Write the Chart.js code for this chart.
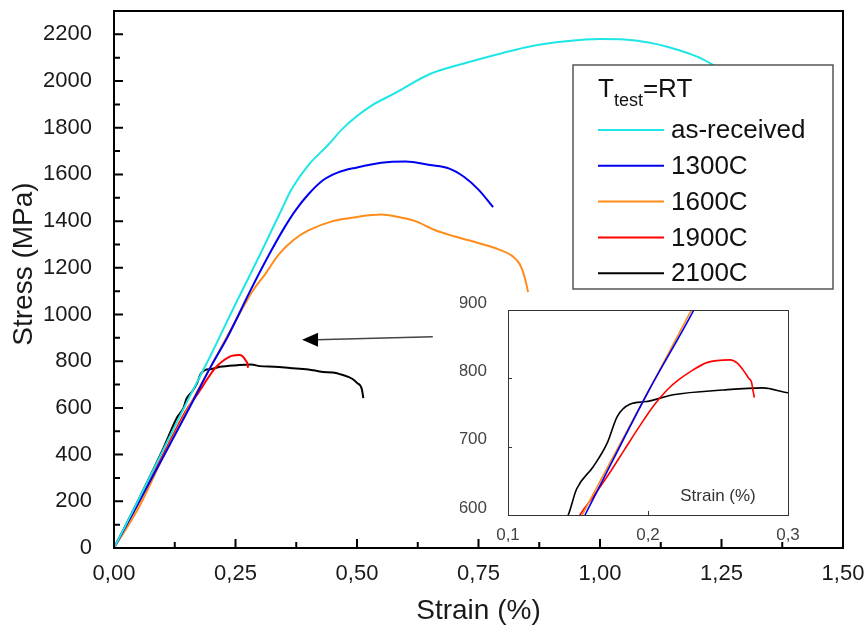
<!DOCTYPE html>
<html>
<head>
<meta charset="utf-8">
<script src="https://cdn.jsdelivr.net/npm/chart.js@4"></script>
<style>
  body { margin: 0; background: #fff; }
  #wrap { position: relative; width: 868px; height: 628px; }
  #main { position: absolute; left: 0; top: 0; }
  #inset { position: absolute; left: 460px; top: 290px; }
</style>
</head>
<body>
<div id="wrap">
  <canvas id="main" width="868" height="628"></canvas>
  <canvas id="inset" width="360" height="255"></canvas>
</div>
<script>
// series names and colours
const seriesNames = ["as-received", "1300C", "1600C", "1900C", "2100C"];
const seriesColors = ["#1ee6e6", "#0000f0", "#ff8c1a", "#ff0000", "#000000"];

// as-received
const strainAsReceived = [0, 0.05, 0.10, 0.15, 0.20, 0.25, 0.30, 0.345, 0.365, 0.40, 0.44, 0.47, 0.50, 0.53, 0.58, 0.65, 0.72, 0.80, 0.86, 0.93, 1.00, 1.05, 1.10, 1.14, 1.18, 1.21, 1.24];
const stressAsReceived = [0, 205, 415, 625, 830, 1045, 1255, 1450, 1535, 1640, 1725, 1795, 1850, 1895, 1950, 2030, 2075, 2120, 2150, 2170, 2180, 2178, 2165, 2146, 2120, 2095, 2060];

// 1300C
const strain1300 = [0, 0.10, 0.155, 0.20, 0.234, 0.28, 0.32, 0.35, 0.375, 0.40, 0.43, 0.46, 0.50, 0.55, 0.60, 0.65, 0.69, 0.72, 0.75, 0.78];
const stress1300 = [0, 385, 600, 780, 905, 1100, 1260, 1370, 1450, 1515, 1575, 1608, 1630, 1650, 1655, 1640, 1625, 1590, 1535, 1460];

// 1600C
const strain1600 = [0, 0.05, 0.10, 0.153, 0.20, 0.231, 0.26, 0.285, 0.31, 0.34, 0.37, 0.40, 0.45, 0.50, 0.55, 0.58, 0.62, 0.66, 0.70, 0.73, 0.76, 0.79, 0.82, 0.835, 0.845, 0.852];
const stress1600 = [0, 170, 385, 600, 780, 900, 1010, 1100, 1170, 1260, 1320, 1360, 1400, 1418, 1428, 1420, 1400, 1362, 1335, 1318, 1300, 1280, 1250, 1215, 1160, 1096];

// 1900C
const strain1900 = [0, 0.05, 0.10, 0.1514, 0.162, 0.173, 0.183, 0.194, 0.204, 0.2136, 0.222, 0.232, 0.242, 0.2586, 0.264, 0.268, 0.272, 0.274, 0.275, 0.276];
const stress1900 = [0, 190, 395, 600, 630, 663, 695, 730, 760, 783, 798, 812, 823, 827, 822, 812, 800, 794, 782, 772];

// 2100C
const strain2100 = [0, 0.05, 0.10, 0.13, 0.143, 0.149, 0.161, 0.171, 0.178, 0.187, 0.199, 0.218, 0.254, 0.282, 0.30, 0.33, 0.362, 0.40, 0.43, 0.45, 0.471, 0.49, 0.50, 0.51, 0.513];
const stress2100 = [0, 205, 420, 560, 600, 638, 671, 706, 744, 762, 766, 776, 783, 786, 779, 776, 771, 765, 754, 752, 741, 725, 707, 680, 642];

// tick labels
const xTickValues = [0, 0.25, 0.5, 0.75, 1.0, 1.25, 1.5];
const xTickLabels = ["0,00", "0,25", "0,50", "0,75", "1,00", "1,25", "1,50"];
const yTickValues = [0, 200, 400, 600, 800, 1000, 1200, 1400, 1600, 1800, 2000, 2200];
const yTickLabels = ["0", "200", "400", "600", "800", "1000", "1200", "1400", "1600", "1800", "2000", "2200"];
const insetXTickValues = [0.1, 0.2, 0.3];
const insetXTickLabels = ["0,1", "0,2", "0,3"];
const insetYTickValues = [600, 700, 800, 900];
const insetYTickLabels = ["600", "700", "800", "900"];

const allStrain = [strainAsReceived, strain1300, strain1600, strain1900, strain2100];
const allStress = [stressAsReceived, stress1300, stress1600, stress1900, stress2100];

Chart.defaults.font.family = "'Liberation Sans', Arial, sans-serif";

function points(xs, ys) {
  return xs.map((x, i) => ({ x: x, y: ys[i] }));
}

function makeDataset(i, width) {
  return {
    label: seriesNames[i],
    data: points(allStrain[i], allStress[i]),
    showLine: true,
    borderColor: seriesColors[i],
    borderWidth: width,
    pointRadius: 0,
    cubicInterpolationMode: "monotone",
    fill: false
  };
}

// box, inward ticks, y title, arrow and legend for the main plot
const mainDecor = {
  id: "mainDecor",
  afterDraw(chart) {
    const { ctx, chartArea: a, scales: { x, y } } = chart;
    ctx.save();
    ctx.strokeStyle = "#000";
    ctx.lineWidth = 2;
    ctx.strokeRect(a.left, a.top, a.right - a.left, a.bottom - a.top);

    ctx.beginPath();
    for (let k = 0; k <= 12; k++) {
      const px = x.getPixelForValue(k * 0.125);
      const len = k % 2 === 0 ? 9 : 6;
      ctx.moveTo(px, a.bottom);
      ctx.lineTo(px, a.bottom - len);
    }
    for (let k = 0; k <= 23; k++) {
      const py = y.getPixelForValue(k * 100);
      const len = k % 2 === 0 ? 9 : 6;
      ctx.moveTo(a.left, py);
      ctx.lineTo(a.left + len, py);
    }
    ctx.stroke();

    // y axis title, sits a little above the middle of the axis
    ctx.save();
    ctx.translate(24, 264);
    ctx.rotate(-Math.PI / 2);
    ctx.fillStyle = "#1a1a1a";
    ctx.font = "28px 'Liberation Sans', Arial, sans-serif";
    ctx.textAlign = "center";
    ctx.textBaseline = "middle";
    ctx.fillText("Stress (MPa)", 0, 0);
    ctx.restore();

    // arrow pointing at the yield region
    const x0 = x.getPixelForValue(0.656), y0 = y.getPixelForValue(905);
    const x1 = x.getPixelForValue(0.387), y1 = y.getPixelForValue(892);
    ctx.strokeStyle = "#444";
    ctx.lineWidth = 1.5;
    ctx.beginPath();
    ctx.moveTo(x0, y0);
    ctx.lineTo(x1 + 14, y1);
    ctx.stroke();
    ctx.fillStyle = "#000";
    ctx.beginPath();
    ctx.moveTo(x1, y1);
    ctx.lineTo(x1 + 16, y1 - 7);
    ctx.lineTo(x1 + 16, y1 + 7);
    ctx.closePath();
    ctx.fill();

    // legend
    const lx = 573, ly = 65, lw = 260, lh = 224;
    ctx.fillStyle = "#fff";
    ctx.fillRect(lx, ly, lw, lh);
    ctx.strokeStyle = "#555";
    ctx.lineWidth = 1.5;
    ctx.strokeRect(lx, ly, lw, lh);

    ctx.fillStyle = "#111";
    ctx.textBaseline = "alphabetic";
    ctx.textAlign = "left";
    ctx.font = "26px 'Liberation Sans', Arial, sans-serif";
    ctx.fillText("T", 598, 97);
    let tx = 598 + ctx.measureText("T").width;
    ctx.font = "18px 'Liberation Sans', Arial, sans-serif";
    ctx.fillText("test", tx, 106);
    tx += ctx.measureText("test").width;
    ctx.font = "26px 'Liberation Sans', Arial, sans-serif";
    ctx.fillText("=RT", tx, 97);

    ctx.textBaseline = "middle";
    for (let i = 0; i < seriesNames.length; i++) {
      const ey = 130 + i * 35.8;
      ctx.strokeStyle = seriesColors[i];
      ctx.lineWidth = 2;
      ctx.beginPath();
      ctx.moveTo(598, ey);
      ctx.lineTo(664, ey);
      ctx.stroke();
      ctx.fillStyle = "#111";
      ctx.fillText(seriesNames[i], 671, ey + 1);
    }
    ctx.restore();
  }
};

new Chart(document.getElementById("main"), {
  type: "scatter",
  data: {
    datasets: [0, 1, 2, 3, 4].map(i => makeDataset(i, 2))
  },
  options: {
    responsive: false,
    animation: false,
    layout: { padding: { top: 11, right: 25, left: 0, bottom: 0 } },
    plugins: { legend: { display: false }, tooltip: { enabled: false } },
    scales: {
      x: {
        type: "linear",
        min: 0,
        max: 1.5,
        afterBuildTicks: s => { s.ticks = xTickValues.map(v => ({ value: v })); },
        afterFit: s => { s.height = 80; s.paddingLeft = 0; s.paddingRight = 0; },
        grid: { display: false },
        border: { display: false },
        ticks: {
          callback: (v, i) => xTickLabels[i],
          font: { size: 22 },
          color: "#1a1a1a",
          padding: 5,
          maxRotation: 0
        },
        title: {
          display: true,
          text: "Strain (%)",
          font: { size: 28 },
          color: "#1a1a1a",
          padding: { top: 2, bottom: 0 }
        }
      },
      y: {
        type: "linear",
        min: 0,
        max: 2300,
        afterBuildTicks: s => { s.ticks = yTickValues.map(v => ({ value: v })); },
        afterFit: s => { s.width = 114; s.paddingTop = 0; s.paddingBottom = 0; },
        grid: { display: false },
        border: { display: false },
        ticks: {
          callback: (v, i) => yTickLabels[i],
          font: { size: 22 },
          color: "#1a1a1a",
          padding: 14
        }
      }
    }
  },
  plugins: [mainDecor]
});

// inset box, ticks and axis caption
const insetDecor = {
  id: "insetDecor",
  afterDraw(chart) {
    const { ctx, chartArea: a, scales: { x, y } } = chart;
    ctx.save();
    ctx.strokeStyle = "#333";
    ctx.lineWidth = 1;
    ctx.strokeRect(a.left + 0.5, a.top + 0.5, a.right - a.left, a.bottom - a.top);
    ctx.beginPath();
    insetXTickValues.forEach(v => {
      const px = Math.round(x.getPixelForValue(v)) + 0.5;
      ctx.moveTo(px, a.bottom);
      ctx.lineTo(px, a.bottom - 4);
    });
    insetYTickValues.forEach(v => {
      const py = Math.round(y.getPixelForValue(v)) + 0.5;
      ctx.moveTo(a.left, py);
      ctx.lineTo(a.left + 4, py);
    });
    ctx.stroke();
    ctx.fillStyle = "#333";
    ctx.font = "17px 'Liberation Sans', Arial, sans-serif";
    ctx.textAlign = "center";
    ctx.textBaseline = "middle";
    ctx.fillText("Strain (%)", x.getPixelForValue(0.25), y.getPixelForValue(628));
    ctx.restore();
  }
};

new Chart(document.getElementById("inset"), {
  type: "scatter",
  data: {
    datasets: [1, 2, 3, 4].map(i => makeDataset(i, 1.6))
  },
  options: {
    responsive: false,
    animation: false,
    layout: { padding: { top: 20, right: 32, left: 0, bottom: 0 } },
    plugins: { legend: { display: false }, tooltip: { enabled: false } },
    scales: {
      x: {
        type: "linear",
        min: 0.1,
        max: 0.3,
        afterBuildTicks: s => { s.ticks = insetXTickValues.map(v => ({ value: v })); },
        afterFit: s => { s.height = 30; s.paddingLeft = 0; s.paddingRight = 0; },
        grid: { display: false },
        border: { display: false },
        ticks: {
          callback: (v, i) => insetXTickLabels[i],
          font: { size: 17 },
          color: "#444",
          padding: 2,
          maxRotation: 0
        }
      },
      y: {
        type: "linear",
        min: 600,
        max: 900,
        afterBuildTicks: s => { s.ticks = insetYTickValues.map(v => ({ value: v })); },
        afterFit: s => { s.width = 48; s.paddingTop = 0; s.paddingBottom = 0; },
        grid: { display: false },
        border: { display: false },
        ticks: {
          callback: (v, i) => insetYTickLabels[i],
          font: { size: 17 },
          color: "#444",
          padding: 13,
          labelOffset: -7
        }
      }
    }
  },
  plugins: [insetDecor]
});
</script>
</body>
</html>
